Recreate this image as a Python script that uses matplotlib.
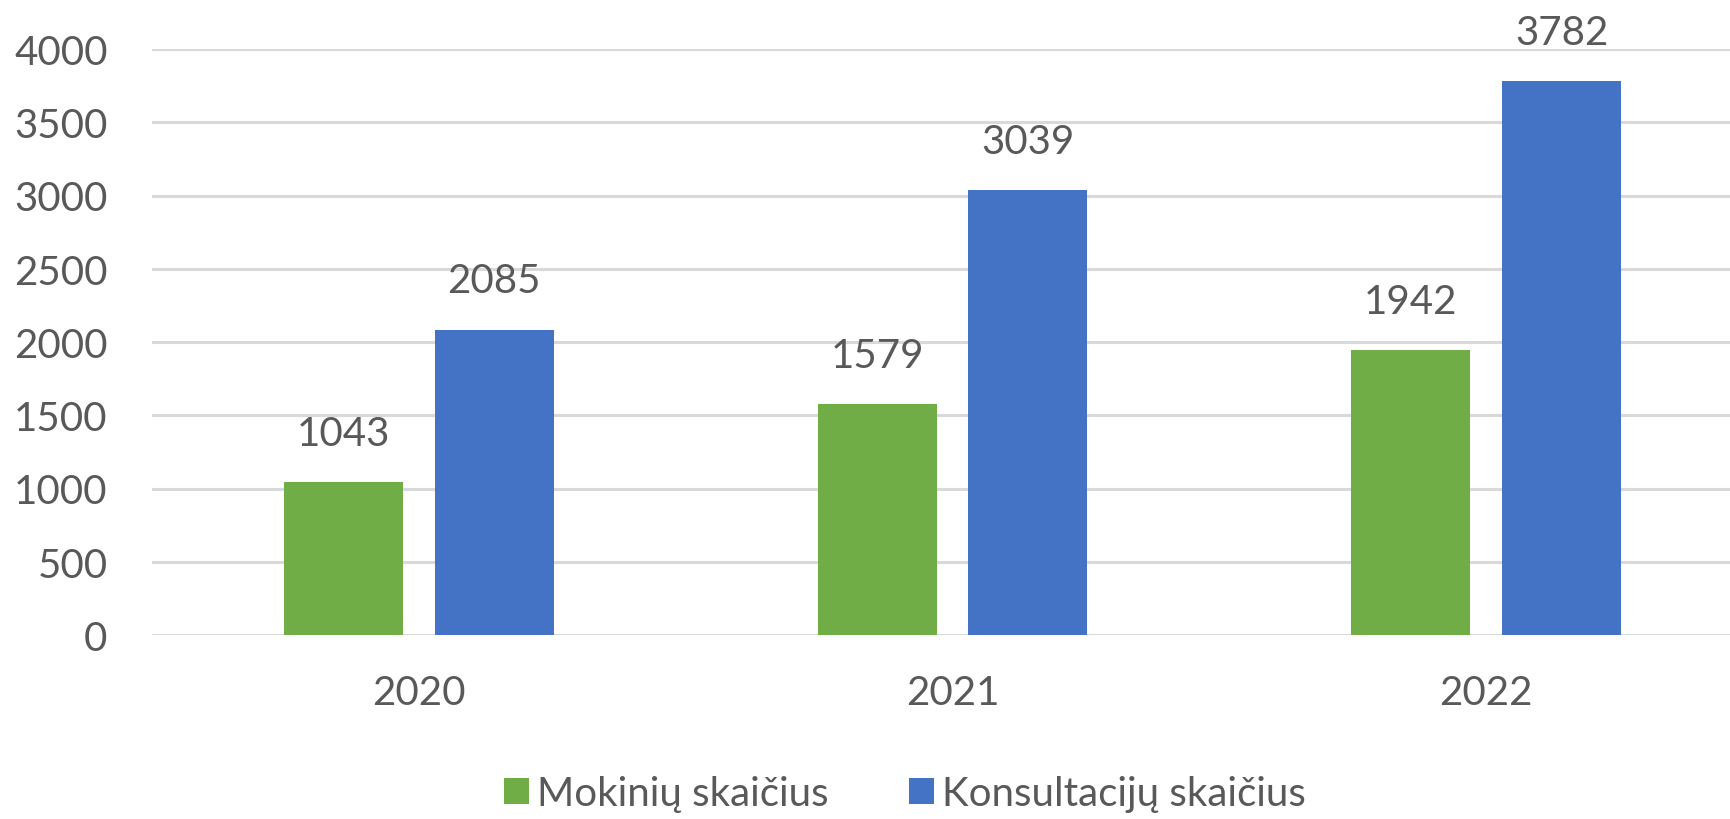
import matplotlib
matplotlib.use('Agg')
import matplotlib.pyplot as plt
import numpy as np

# duomenys
metai = ['2020', '2021', '2022']
mokiniai = [1043, 1579, 1942]
konsultacijos = [2085, 3039, 3782]
serijos = ['Mokinių skaičius', 'Konsultacijų skaičius']

plt.rcParams['font.family'] = ['Lato', 'DejaVu Sans']
pilka = '#595959'

fig = plt.figure(figsize=(17.31, 8.2), dpi=100)
# ašys truputį išeina už dešinio krašto, kaip originale
ax = fig.add_axes([152 / 1731, 1 - 636 / 820, (1753 - 152) / 1731, (636 - 50) / 820])

x = np.arange(len(metai))
plotis = 0.223
poslinkis = 0.1414
b1 = ax.bar(x - poslinkis, mokiniai, plotis, color='#70AD47', label=serijos[0], zorder=3)
b2 = ax.bar(x + poslinkis, konsultacijos, plotis, color='#4472C4', label=serijos[1], zorder=3)

# reikšmės virš stulpelių
for bars in (b1, b2):
    for r in bars:
        ax.annotate(str(int(r.get_height())),
                    (r.get_x() + r.get_width() / 2, r.get_height()),
                    xytext=(0, 35), textcoords='offset points',
                    ha='center', va='center', fontsize=29, color=pilka,
                    annotation_clip=False)

ax.set_xlim(-0.5, 2.5)
ax.set_ylim(0, 4000)
ax.set_yticks(np.arange(0, 4001, 500))
ax.set_xticks(x)
ax.set_xticklabels(metai)
ax.yaxis.grid(True, color='#D9D9D9', linewidth=2.2, zorder=0)
ax.set_axisbelow(True)
for s in ax.spines.values():
    s.set_visible(False)
ax.tick_params(axis='both', length=0, labelsize=29, labelcolor=pilka)
ax.tick_params(axis='y', pad=32)
ax.tick_params(axis='x', pad=28)

fig.legend(handles=[b1, b2], loc='center', bbox_to_anchor=(905 / 1731, 1 - 795 / 820),
           ncol=2, frameon=False, fontsize=29, labelcolor=pilka,
           handlelength=0.62, handleheight=0.62, handletextpad=0.2, columnspacing=2.0)

plt.savefig('out.png', dpi=100)
